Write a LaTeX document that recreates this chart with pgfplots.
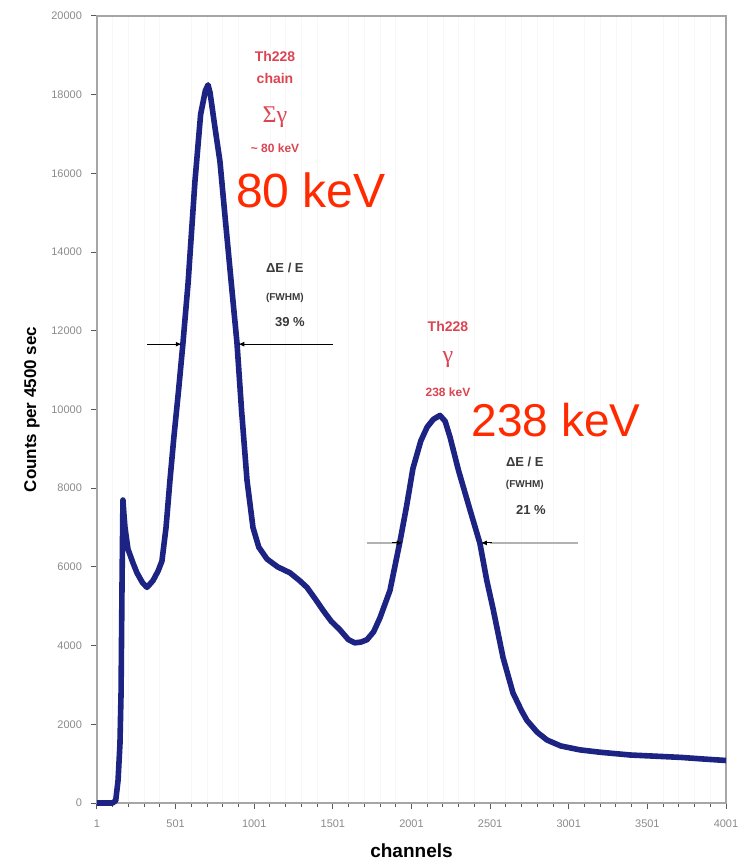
\documentclass[border=0pt]{standalone}
\usepackage{pgfplots}
\pgfplotsset{compat=1.18}
\usetikzlibrary{arrows.meta}
\usepackage{fontspec}
\setmainfont{Liberation Sans}
\newfontfamily\grserif{Liberation Serif}
\definecolor{curve}{HTML}{1C2382}
\definecolor{bigred}{HTML}{FF2A00}
\definecolor{smallred}{HTML}{DC4452}
\definecolor{lab}{HTML}{3A3A3A}
\definecolor{tickgray}{HTML}{8A8A8A}
\begin{document}
\begin{tikzpicture}
\begin{axis}[
  scale only axis,
  width=314.5pt, height=393.5pt,
  xmin=1, xmax=4001, ymin=0, ymax=20000,
  xtick={1,501,1001,1501,2001,2501,3001,3501,4001},
  minor xtick={101,201,301,401,601,701,801,901,1101,1201,1301,1401,1601,1701,1801,1901,2101,2201,2301,2401,2601,2701,2801,2901,3101,3201,3301,3401,3601,3701,3801,3901},
  ytick={0,2000,4000,6000,8000,10000,12000,14000,16000,18000,20000},
  scaled ticks=false,
  /pgf/number format/.cd, 1000 sep={}, assume math mode=true,
  /pgfplots/.cd,
  tick align=outside,
  xtick pos=bottom, ytick pos=left,
  major tick length=3pt, minor tick length=2pt,
  tick style={gray!70!black, line width=0.5pt},
  axis line style={gray!70, line width=0.8pt},
  minor x grid style={gray!6, line width=0.4pt},
  xminorgrids=true,
  ticklabel style={font=\fontsize{5.5}{6}\selectfont, text=tickgray},
  xticklabel style={yshift=-2pt},
  yticklabel style={xshift=-1pt},
  xlabel={\textbf{channels}},
  ylabel={\textbf{Counts per 4500 sec}},
  xlabel style={font=\fontsize{9.5}{11}\selectfont, at={(axis description cs:0.5,0)}, anchor=center, yshift=-24pt},
  ylabel style={font=\fontsize{8.5}{10}\selectfont, at={(axis description cs:0,0.5)}, anchor=center, yshift=32.5pt},
  clip=false,
]
\addplot[curve, line width=2.8pt, line join=round] coordinates {
(1,0) (60,0) (100,0) (120,60) (135,580) (147,1500) (154,2800) (160,5500) (166,7700)
(172,7350) (179,7000) (198,6450) (230,6100) (255,5850) (290,5600) (319,5480)
(357,5650) (390,5900) (414,6150) (440,7000) (465,8200) (490,9300) (520,10500)
(548,11700) (580,13200) (624,15800) (660,17500) (690,18100) (707,18250) (720,18050)
(750,17200) (783,16300) (820,14700) (860,13000) (891,11700) (920,10000) (955,8200)
(993,7000) (1030,6500) (1082,6200) (1150,6000) (1228,5850) (1290,5650) (1336,5480)
(1390,5180) (1438,4900) (1490,4620) (1546,4400) (1600,4150) (1640,4070) (1680,4090)
(1718,4150) (1760,4350) (1800,4700) (1864,5400) (1928,6650) (1970,7550) (2010,8500)
(2060,9200) (2100,9550) (2140,9750) (2182,9850) (2215,9700) (2246,9300) (2300,8450) (2373,7450)
(2436,6600) (2480,5650) (2519,4950) (2583,3700) (2646,2800) (2700,2350) (2735,2100)
(2800,1800) (2863,1600) (2950,1450) (3072,1350) (3200,1290) (3391,1220) (3550,1190)
(3709,1160) (3850,1120) (4001,1080)
};
% FWHM arrows, first peak
\draw[black, line width=0.5pt, -{Latex[length=3pt,width=2.5pt]}] (axis cs:319,11660) -- (axis cs:540,11660);
\draw[black, line width=0.5pt, -{Latex[length=3pt,width=2.5pt]}] (axis cs:1502,11660) -- (axis cs:900,11660);
% FWHM arrows, second peak
\draw[gray!60, line width=0.7pt] (axis cs:1718,6610) -- (axis cs:1900,6610);
\draw[black, line width=0.5pt, -{Latex[length=3pt,width=2.5pt]}] (axis cs:1880,6610) -- (axis cs:1945,6610);
\draw[gray!60, line width=0.7pt] (axis cs:3060,6610) -- (axis cs:2500,6610);
\draw[black, line width=0.5pt, -{Latex[length=3pt,width=2.5pt]}] (axis cs:2510,6610) -- (axis cs:2442,6610);
% annotations first peak
\node[text=smallred, font=\bfseries\fontsize{7}{8}\selectfont] at (axis cs:1133,18960) {Th228};
\node[text=smallred, font=\bfseries\fontsize{7}{8}\selectfont] at (axis cs:1133,18400) {chain};
\node[text=smallred, font=\grserif\fontsize{12}{13}\selectfont] at (axis cs:1133,17430) {Σγ};
\node[text=smallred, font=\bfseries\fontsize{6}{7}\selectfont] at (axis cs:1133,16650) {\textasciitilde\ 80 keV};
\node[text=bigred, font=\fontsize{24}{26}\selectfont] at (axis cs:1362,15560) {80 keV};
\node[text=lab, font=\bfseries\fontsize{6.5}{7}\selectfont] at (axis cs:1196,13600) {ΔE / E};
\node[text=lab, font=\bfseries\fontsize{5}{6}\selectfont] at (axis cs:1196,12830) {(FWHM)};
\node[text=lab, font=\bfseries\fontsize{6.5}{7}\selectfont] at (axis cs:1228,12220) {39 \%};
% annotations second peak
\node[text=smallred, font=\bfseries\fontsize{7}{8}\selectfont] at (axis cs:2233,12100) {Th228};
\node[text=smallred, font=\grserif\fontsize{12}{13}\selectfont] at (axis cs:2233,11260) {γ};
\node[text=smallred, font=\bfseries\fontsize{6}{7}\selectfont] at (axis cs:2233,10440) {238 keV};
\node[text=bigred, font=\fontsize{23}{25}\selectfont] at (axis cs:2920,9730) {238 keV};
\node[text=lab, font=\bfseries\fontsize{6.5}{7}\selectfont] at (axis cs:2722,8670) {ΔE / E};
\node[text=lab, font=\bfseries\fontsize{5}{6}\selectfont] at (axis cs:2722,8080) {(FWHM)};
\node[text=lab, font=\bfseries\fontsize{6.5}{7}\selectfont] at (axis cs:2760,7450) {21 \%};
\end{axis}
\pgfresetboundingbox
\path (current axis.south west) ++(-48.5pt,-29pt) coordinate (bl);
\path (current axis.north east) ++(9pt,8pt) coordinate (tr);
\path[use as bounding box] (bl) rectangle (tr);
\end{tikzpicture}
\end{document}
